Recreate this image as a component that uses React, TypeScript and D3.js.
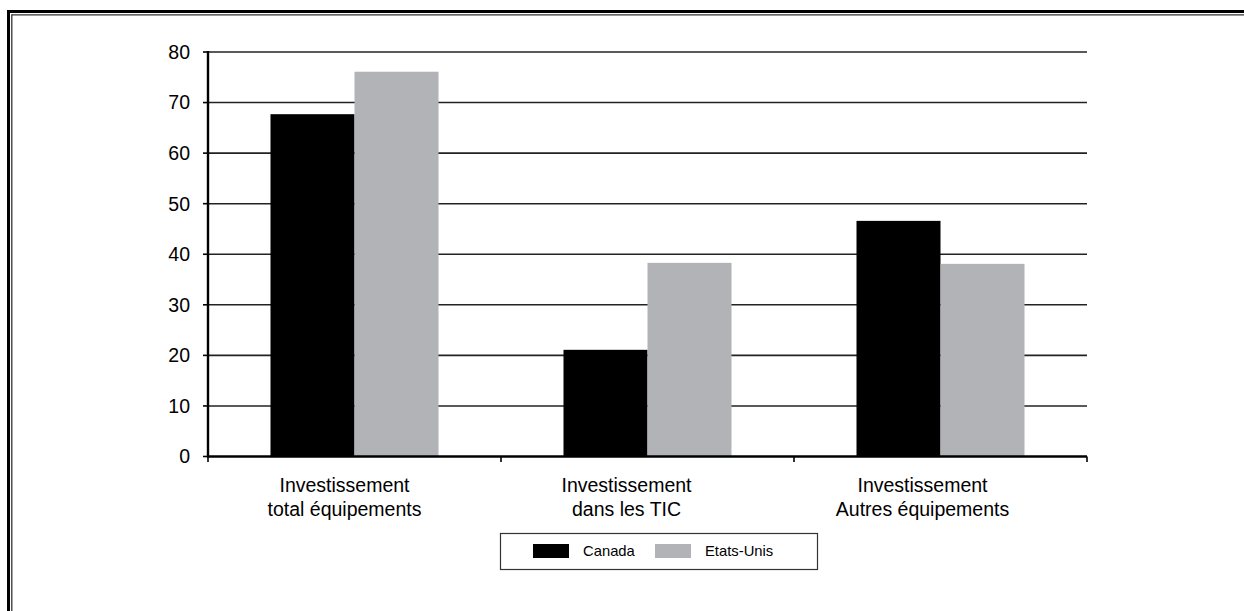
import React from "react";
import * as d3 from "d3";

// Categories (two-line labels) and series values
const categories = [
  ["Investissement", "total équipements"],
  ["Investissement", "dans les TIC"],
  ["Investissement", "Autres équipements"],
];
const seriesNames = ["Canada", "Etats-Unis"];
const canada = [67.7, 21.1, 46.6];
const etatsUnis = [76.1, 38.3, 38.1];
const yTicks = [0, 10, 20, 30, 40, 50, 60, 70, 80];

const W = 1244;
const H = 611;
const FONT = "'Liberation Sans', Arial, sans-serif";
const COLORS = ["#000000", "#b1b3b6"];
// horizontal nudge of each category label relative to its band centre
const LABEL_DX = [-10, -21, -18];

export default function App() {
  const left = 208;
  const right = 1087;
  const top = 52;
  const bottom = 456.5;

  const keys = categories.map((c) => c.join(" "));
  const y = d3.scaleLinear().domain([0, 80]).range([bottom, top]);
  const x0 = d3
    .scaleBand<string>()
    .domain(keys)
    .range([left, right])
    .paddingInner(0.4266)
    .paddingOuter(0.2133);
  const x1 = d3
    .scaleBand<string>()
    .domain(seriesNames)
    .range([0, x0.bandwidth()]);
  const step = x0.step();
  const values = [canada, etatsUnis];

  return (
    <svg
      width={W}
      height={H}
      style={{ position: "absolute", left: 0, top: 0, background: "#fff" }}
    >
      {/* frame: double rule on top and left */}
      <line x1={7} x2={W} y1={11.5} y2={11.5} stroke="#000" strokeWidth={3} />
      <line x1={8.5} x2={8.5} y1={10} y2={H} stroke="#000" strokeWidth={3} />
      <line x1={11.8} x2={W} y1={14.8} y2={14.8} stroke="#333" strokeWidth={1.3} />
      <line x1={11.8} x2={11.8} y1={14.2} y2={H} stroke="#333" strokeWidth={1.3} />

      {/* gridlines */}
      {yTicks.slice(1).map((t) => (
        <line
          key={t}
          x1={left}
          x2={right}
          y1={y(t)}
          y2={y(t)}
          stroke="#222"
          strokeWidth={1.6}
        />
      ))}

      {/* bars */}
      {keys.map((k, i) => (
        <g key={k} transform={`translate(${x0(k)},0)`}>
          {seriesNames.map((s, j) => (
            <rect
              key={s}
              x={x1(s)}
              y={y(values[j][i])}
              width={x1.bandwidth()}
              height={y(0) - y(values[j][i])}
              fill={COLORS[j]}
            />
          ))}
        </g>
      ))}

      {/* y axis */}
      <line x1={left} x2={left} y1={top - 1} y2={bottom + 1} stroke="#000" strokeWidth={2.4} />
      {yTicks.map((t) => (
        <g key={t}>
          <line x1={left - 5} x2={left} y1={y(t)} y2={y(t)} stroke="#000" strokeWidth={1.6} />
          <text
            x={190}
            y={y(t)}
            dy="0.35em"
            textAnchor="end"
            fontFamily={FONT}
            fontSize={19.5}
            fill="#000"
          >
            {t}
          </text>
        </g>
      ))}

      {/* x axis */}
      <line x1={left} x2={right} y1={bottom} y2={bottom} stroke="#000" strokeWidth={2.4} />
      {d3.range(keys.length + 1).map((i) => (
        <line
          key={i}
          x1={left + i * step}
          x2={left + i * step}
          y1={bottom}
          y2={bottom + 5.5}
          stroke="#000"
          strokeWidth={1.6}
        />
      ))}
      {categories.map((lines, i) => {
        const cx = (x0(keys[i]) as number) + x0.bandwidth() / 2 + LABEL_DX[i];
        return (
          <text
            key={i}
            x={cx}
            y={492}
            textAnchor="middle"
            fontFamily={FONT}
            fontSize={19.5}
            fill="#000"
          >
            {lines.map((l, li) => (
              <tspan key={li} x={cx} dy={li === 0 ? 0 : 23.5}>
                {l}
              </tspan>
            ))}
          </text>
        );
      })}

      {/* legend */}
      <rect x={500.5} y={533.5} width={317} height={36} fill="#fff" stroke="#333" strokeWidth={1.2} />
      {seriesNames.map((s, j) => {
        const sx = 533 + j * 122;
        return (
          <g key={s}>
            <rect x={sx} y={544} width={36} height={14} fill={COLORS[j]} />
            <text
              x={sx + 50}
              y={551}
              dy="0.35em"
              fontFamily={FONT}
              fontSize={14.8}
              fill="#000"
            >
              {s}
            </text>
          </g>
        );
      })}
    </svg>
  );
}
